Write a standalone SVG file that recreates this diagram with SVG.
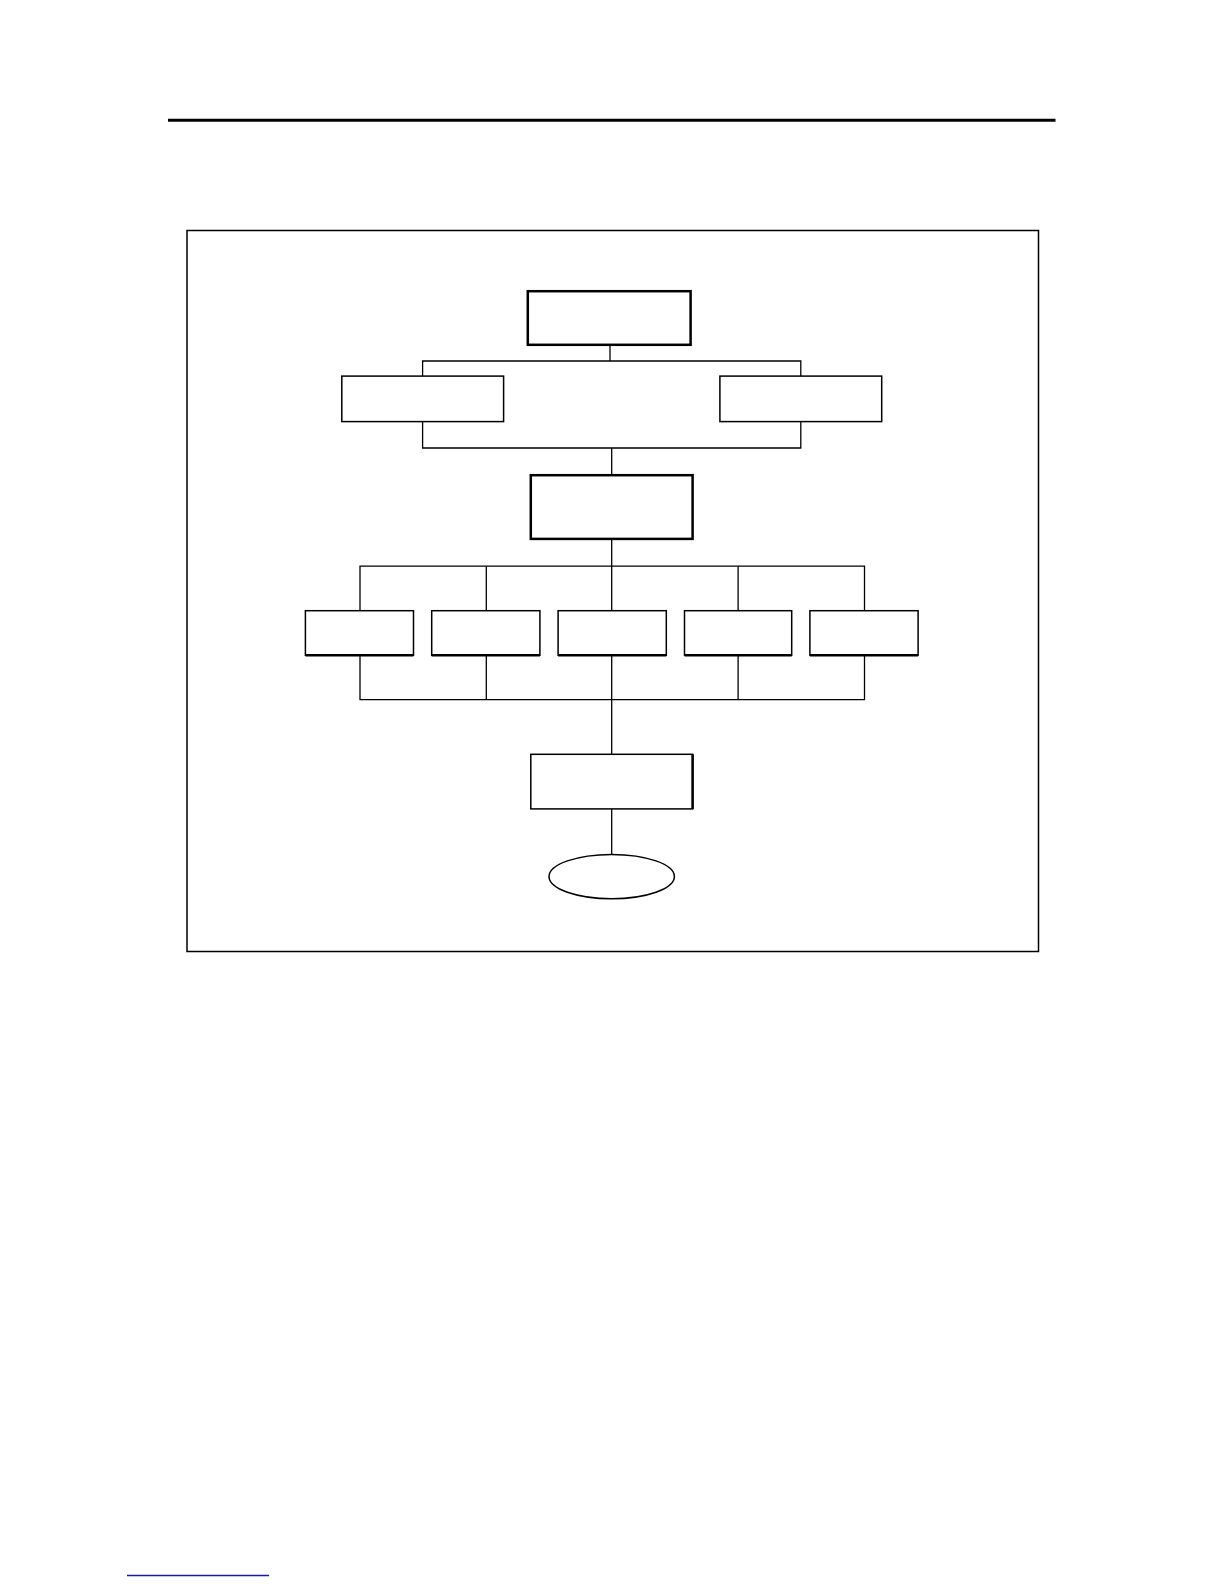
<svg xmlns="http://www.w3.org/2000/svg" width="1224" height="1584" viewBox="0 0 1224 1584">
<style>
.box{fill:#fff;stroke:#000;stroke-width:1.5}
.bold{stroke-width:2.5}
.thick{stroke:#000;stroke-width:2.5}
.conn line, .conn polyline{stroke:#000;stroke-width:1.3;fill:none}
</style>
<rect x="0" y="0" width="1224" height="1584" fill="#fff"/>
<line x1="168" y1="120.3" x2="1055.5" y2="120.3" stroke="#000" stroke-width="3"/>
<rect x="187" y="230.5" width="851.5" height="721" fill="none" stroke="#000" stroke-width="1.5"/>
<g class="conn" id="connectors">
<line x1="610" y1="345" x2="610" y2="361"/>
<polyline points="422.6,376 422.6,361 800.8,361 800.8,376"/>
<polyline points="422.6,421.6 422.6,448 800.8,448 800.8,421.6"/>
<line x1="611.7" y1="448" x2="611.7" y2="475"/>
<line x1="611.7" y1="539" x2="611.7" y2="610.7"/>
<polyline points="360,610.7 360,566.2 864.5,566.2 864.5,610.7"/>
<line x1="486.3" y1="566.2" x2="486.3" y2="610.7"/>
<line x1="738.1" y1="566.2" x2="738.1" y2="610.7"/>
<polyline points="360,655.2 360,699.7 864.5,699.7 864.5,655.2"/>
<line x1="486.3" y1="655.2" x2="486.3" y2="699.7"/>
<line x1="738.1" y1="655.2" x2="738.1" y2="699.7"/>
<line x1="611.7" y1="655.2" x2="611.7" y2="754.3"/>
<line x1="611.7" y1="809" x2="611.7" y2="855"/>
</g>
<g id="n1"><rect class="box bold" x="527.8" y="291.2" width="162.8" height="53.6"/></g>
<g id="n2"><rect class="box" x="341.8" y="376.1" width="161.8" height="45.5"/></g>
<g id="n3"><rect class="box" x="719.9" y="376.1" width="161.8" height="45.5"/></g>
<g id="n4"><rect class="box bold" x="530.8" y="475.2" width="161.8" height="63.7"/></g>
<g id="n5"><rect class="box" x="305.4" y="610.7" width="108.1" height="44.5"/><line class="thick" x1="305.4" y1="655.2" x2="413.5" y2="655.2"/></g>
<g id="n6"><rect class="box" x="431.7" y="610.7" width="108.2" height="44.5"/><line class="thick" x1="431.7" y1="655.2" x2="539.9" y2="655.2"/></g>
<g id="n7"><rect class="box" x="558.1" y="610.7" width="108.2" height="44.5"/><line class="thick" x1="558.1" y1="655.2" x2="666.3" y2="655.2"/></g>
<g id="n8"><rect class="box" x="684.5" y="610.7" width="107.2" height="44.5"/><line class="thick" x1="684.5" y1="655.2" x2="791.7" y2="655.2"/></g>
<g id="n9"><rect class="box" x="809.9" y="610.7" width="108.2" height="44.5"/><line class="thick" x1="809.9" y1="655.2" x2="918.1" y2="655.2"/></g>
<g id="n10"><rect class="box" x="530.8" y="754.3" width="161.8" height="54.6"/><line class="thick" x1="692.6" y1="754.3" x2="692.6" y2="808.9"/></g>
<g id="n11"><ellipse cx="611.7" cy="876.6" rx="62.7" ry="22.2" fill="#fff" stroke="#000" stroke-width="1.5"/></g>
<line x1="127" y1="1575.5" x2="269" y2="1575.5" stroke="#1a1aa0" stroke-width="1.5"/>
</svg>
